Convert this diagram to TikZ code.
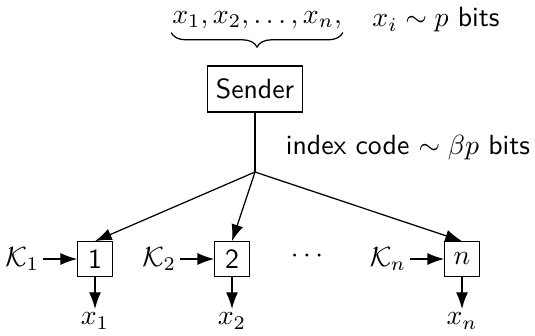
\documentclass[tikz,border=0pt]{standalone}
\usetikzlibrary{arrows.meta,decorations.pathreplacing}

\tikzset{
  box/.style={draw, line width=0.45pt, inner sep=0pt},
  rbox/.style={box, minimum width=12.4pt, minimum height=12.4pt},
  lbl/.style={inner sep=1.2pt},
  link/.style={line width=0.45pt},
  arr/.style={link, -{Latex[length=6pt,width=4.3pt]}},
}

\begin{document}
\begin{tikzpicture}[x=0.36pt, y=-0.36pt, font=\sffamily]
  \useasboundingbox (0,0) rectangle (535,335);

  % messages held by the sender
  \node[lbl] (msgs) at (257,20) {$x_1, x_2, \ldots, x_n,$};
  \node[lbl] (size) at (436,20) {$x_i \sim p$ bits};
  \draw[link, decorate, decoration={brace, mirror, amplitude=5.2pt}]
    ([xshift=1pt]msgs.south west) -- ([xshift=-1pt]msgs.south east);

  % sender and broadcast
  \node[box, minimum width=34pt, minimum height=16.5pt] (snd) at (255,89) {Sender};
  \coordinate (hub) at (255,172);
  \node[anchor=west, lbl] (code) at (282,148) {index code $\sim \beta p$ bits};
  \draw[link] (snd.south) -- (hub);

  % receivers
  \node[rbox] (r1) at (95,259) {1};
  \node[rbox] (r2) at (232,259) {2};
  \node[rbox] (rn) at (462,259) {$n$};
  \node at (307,256) (dots) {$\cdots$};

  \draw[arr] (hub) -- (r1.north);
  \draw[arr] (hub) -- (r2.north);
  \draw[arr] (hub) -- (rn.north);

  % side information
  \node[lbl, anchor=east] (k1) at (43,259) {$\mathcal{K}_1$};
  \node[lbl, anchor=east] (k2) at (180,259) {$\mathcal{K}_2$};
  \node[lbl, anchor=east] (kn) at (410,259) {$\mathcal{K}_n$};
  \draw[arr] (k1) -- (r1);
  \draw[arr] (k2) -- (r2);
  \draw[arr] (kn) -- (rn);

  % decoded messages
  \node[lbl, anchor=north] (o1) at (95,309) {$x_1$};
  \node[lbl, anchor=north] (o2) at (232,309) {$x_2$};
  \node[lbl, anchor=north] (on) at (462,309) {$x_n$};
  \draw[arr] (r1) -- (o1);
  \draw[arr] (r2) -- (o2);
  \draw[arr] (rn) -- (on);
\end{tikzpicture}
\end{document}
